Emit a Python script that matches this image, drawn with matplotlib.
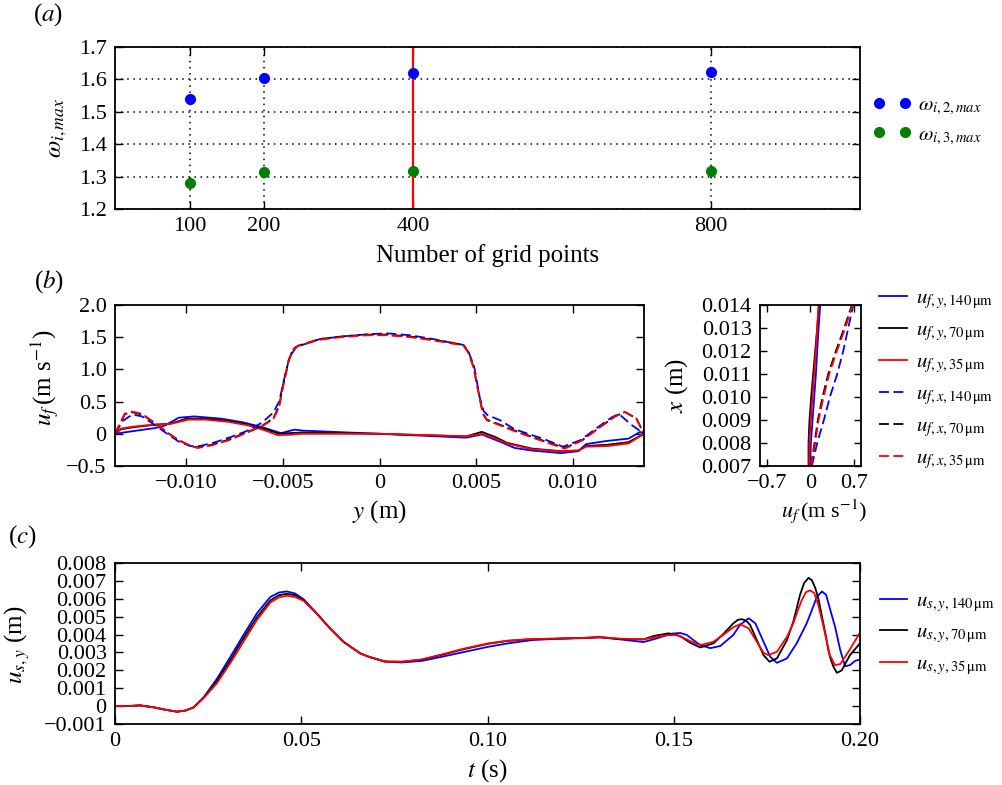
import matplotlib
matplotlib.use('Agg')
import matplotlib.pyplot as plt
from matplotlib.ticker import FuncFormatter

plt.rcParams['font.family'] = ['Liberation Serif', 'DejaVu Serif']
plt.rcParams['mathtext.fontset'] = 'stix'

# ---------------- (a) grid convergence ----------------
grid_points = [100, 200, 400, 800]
omega_2 = [1.540, 1.604, 1.619, 1.622]
omega_3 = [1.279, 1.313, 1.317, 1.317]
grid_chosen = 400

# ---------------- (b) fluid velocity profiles ----------------
y_fy140 = [-0.0137, -0.0128, -0.0116, -0.0111, -0.0104, -0.0096, -0.0082, -0.0071, -0.0061,
           -0.0051, -0.0044, -0.0040, 0.0, 0.0045, 0.0053, 0.0063, 0.0070, 0.0079, 0.0094,
           0.0103, 0.0107, 0.0118, 0.0129, 0.0135, 0.0137]
u_fy140 = [0.0, 0.04, 0.09, 0.13, 0.25, 0.27, 0.235, 0.18, 0.105,
           0.01, 0.065, 0.05, 0.0, -0.06, -0.01, -0.13, -0.22, -0.26, -0.30,
           -0.27, -0.16, -0.11, -0.075, 0.03, 0.0]
y_fy70 = [-0.0137, -0.0134, -0.0128, -0.0118, -0.0108, -0.0100, -0.0090, -0.0078, -0.0068,
          -0.0059, -0.0052, -0.0047, -0.0040, 0.0, 0.0045, 0.0053, 0.0060, 0.0066, 0.0079,
          0.0094, 0.0103, 0.0107, 0.0118, 0.0129, 0.0137]
u_fy70 = [0.0, 0.07, 0.10, 0.135, 0.16, 0.235, 0.235, 0.20, 0.145,
          0.07, 0.0, 0.01, 0.02, 0.0, -0.04, 0.03, -0.05, -0.14, -0.23,
          -0.27, -0.26, -0.19, -0.17, -0.13, 0.0]
y_fy35 = [-0.0137, -0.0134, -0.0128, -0.0118, -0.0108, -0.0099, -0.0090, -0.0078, -0.0068,
          -0.0059, -0.0053, -0.0047, -0.0040, 0.0, 0.0045, 0.0053, 0.0058, 0.0066, 0.0079,
          0.0094, 0.0103, 0.0107, 0.0118, 0.0129, 0.0137]
u_fy35 = [0.0, 0.08, 0.11, 0.14, 0.155, 0.22, 0.22, 0.185, 0.13,
          0.05, -0.02, -0.015, 0.0, 0.0, -0.04, 0.0, -0.05, -0.15, -0.24,
          -0.27, -0.26, -0.20, -0.19, -0.15, 0.0]

y_fx140 = [-0.0137, -0.0133, -0.0128, -0.0123, -0.0117, -0.0110, -0.0104, -0.0098, -0.0093,
           -0.0085, -0.0077, -0.0069, -0.0061, -0.0055, -0.0052, -0.0049, -0.00465, -0.0043,
           -0.0031, -0.0020, -0.00065, 0.0004, 0.0016, 0.0028, 0.0038, 0.00435, 0.0046,
           0.0049, 0.00505, 0.0052, 0.0054, 0.0056, 0.00625, 0.0070, 0.0085, 0.0095,
           0.0104, 0.0113, 0.0120, 0.0124, 0.0130, 0.0137]
u_fx140 = [0.0, 0.20, 0.30, 0.27, 0.15, 0.0, -0.12, -0.19, -0.19,
           -0.13, -0.05, 0.04, 0.17, 0.33, 0.50, 0.90, 1.20, 1.35,
           1.47, 1.51, 1.545, 1.56, 1.53, 1.47, 1.41, 1.38, 1.28,
           1.05, 0.80, 0.55, 0.35, 0.29, 0.21, 0.07, -0.08, -0.20,
           -0.10, 0.10, 0.25, 0.31, 0.15, 0.0]
y_fx70 = [-0.0137, -0.0132, -0.0129, -0.0123, -0.0116, -0.0109, -0.0104, -0.0097, -0.0094,
          -0.0087, -0.0078, -0.0070, -0.0061, -0.0055, -0.0052, -0.0050, -0.0047, -0.00447,
          -0.0042, -0.0031, -0.0020, -0.00065, 0.0004, 0.0016, 0.0028, 0.0038, 0.00435,
          0.0046, 0.00487, 0.00504, 0.00521, 0.00535, 0.00556, 0.00625, 0.0070, 0.0085,
          0.0096, 0.0105, 0.0114, 0.0122, 0.0127, 0.0133, 0.0137]
u_fx70 = [0.0, 0.30, 0.34, 0.30, 0.16, 0.0, -0.10, -0.20, -0.21,
          -0.17, -0.09, 0.01, 0.12, 0.24, 0.43, 0.75, 1.15, 1.32,
          1.37, 1.47, 1.51, 1.54, 1.54, 1.51, 1.46, 1.41, 1.38,
          1.27, 1.04, 0.78, 0.53, 0.32, 0.22, 0.14, 0.05, -0.11,
          -0.22, -0.10, 0.10, 0.27, 0.34, 0.24, 0.0]
y_fx35 = [-0.0137, -0.0132, -0.0129, -0.0123, -0.0116, -0.0109, -0.0104, -0.0097, -0.0094,
          -0.0087, -0.0078, -0.0070, -0.0061, -0.0055, -0.0052, -0.0050, -0.0047, -0.00447,
          -0.0042, -0.0031, -0.0020, -0.00065, 0.0004, 0.0016, 0.0028, 0.0038, 0.00435,
          0.0046, 0.00487, 0.00504, 0.00521, 0.00535, 0.00556, 0.00625, 0.0070, 0.0085,
          0.0096, 0.0105, 0.0114, 0.0122, 0.0127, 0.0133, 0.0137]
u_fx35 = [0.0, 0.31, 0.35, 0.31, 0.16, 0.0, -0.10, -0.20, -0.22,
          -0.18, -0.10, 0.0, 0.115, 0.23, 0.41, 0.72, 1.13, 1.31,
          1.365, 1.46, 1.50, 1.53, 1.53, 1.50, 1.45, 1.40, 1.37,
          1.26, 1.03, 0.77, 0.52, 0.31, 0.21, 0.13, 0.04, -0.12,
          -0.23, -0.10, 0.10, 0.27, 0.34, 0.24, 0.0]

# (b) inset: profiles along x
x_levels = [0.007, 0.008, 0.009, 0.010, 0.011, 0.012, 0.013, 0.014]
inset_fy140 = [0.0, 0.011, 0.038, 0.065, 0.092, 0.113, 0.135, 0.162]
inset_fy70 = [-0.027, -0.027, -0.011, 0.016, 0.048, 0.081, 0.113, 0.140]
inset_fy35 = [-0.016, -0.011, 0.011, 0.038, 0.065, 0.092, 0.113, 0.135]
inset_fx140 = [0.027, 0.113, 0.221, 0.318, 0.436, 0.533, 0.614, 0.695]
inset_fx70 = [0.011, 0.070, 0.124, 0.199, 0.291, 0.415, 0.549, 0.673]
inset_fx35 = [0.016, 0.081, 0.135, 0.215, 0.307, 0.431, 0.565, 0.684]

# ---------------- (c) solid displacement history ----------------
t_early = [0, 0.0032, 0.0068, 0.0104, 0.0135, 0.0166, 0.0189, 0.0211, 0.0238, 0.0274, 0.031,
           0.0345, 0.0381, 0.0417, 0.0440, 0.0461, 0.0483, 0.0506, 0.0541, 0.0577, 0.0613,
           0.0658, 0.0681, 0.0725, 0.077, 0.0824, 0.0878, 0.094, 0.1003, 0.1056, 0.1119,
           0.1182, 0.1253]
us_early140 = [0, 0.0, 0.04, -0.07, -0.2, -0.31, -0.25, -0.07, 0.49, 1.54, 2.76,
               3.98, 5.19, 6.10, 6.35, 6.41, 6.30, 5.98, 5.19, 4.35, 3.60,
               2.95, 2.76, 2.48, 2.44, 2.53, 2.76, 3.04, 3.32, 3.51, 3.69,
               3.76, 3.80]
us_early70 = [0, 0.0, 0.04, -0.07, -0.2, -0.31, -0.25, -0.07, 0.47, 1.41, 2.57,
              3.79, 4.97, 5.91, 6.20, 6.28, 6.20, 5.94, 5.19, 4.35, 3.60,
              2.95, 2.76, 2.50, 2.48, 2.60, 2.87, 3.20, 3.49, 3.65, 3.74,
              3.77, 3.81]
us_early35 = [0, 0.0, 0.04, -0.07, -0.2, -0.31, -0.25, -0.07, 0.45, 1.29, 2.42,
              3.60, 4.82, 5.79, 6.08, 6.17, 6.10, 5.89, 5.19, 4.35, 3.60,
              2.95, 2.76, 2.48, 2.48, 2.61, 2.89, 3.23, 3.51, 3.66, 3.75,
              3.77, 3.81]

t_late140 = [0.1302, 0.1356, 0.1419, 0.1455, 0.1495, 0.1517, 0.1535, 0.1553, 0.1571, 0.1598,
             0.1625, 0.1660, 0.1678, 0.1701, 0.1719, 0.1741, 0.1759, 0.1777, 0.1804, 0.1830,
             0.1857, 0.1871, 0.1884, 0.1898, 0.1909, 0.1919, 0.1933, 0.1947, 0.1960, 0.1973,
             0.1987, 0.2000]
us_late140 = [3.85, 3.73, 3.58, 3.79, 4.05, 4.09, 3.98, 3.69, 3.41, 3.24,
              3.36, 3.98, 4.54, 4.91, 4.63, 3.60, 2.76, 2.42, 2.67, 3.51,
              4.63, 5.38, 6.10, 6.41, 6.22, 5.47, 4.44, 3.13, 2.23, 2.29,
              2.53, 2.61]
t_late70 = [0.1302, 0.1356, 0.1419, 0.1446, 0.1486, 0.1517, 0.1544, 0.1571, 0.1607, 0.1633,
            0.1660, 0.1672, 0.1683, 0.1694, 0.1705, 0.1723, 0.1741, 0.1757, 0.1777, 0.1804,
            0.1821, 0.1830, 0.1839, 0.1850, 0.1862, 0.1871, 0.1880, 0.1889, 0.1898, 0.1907,
            0.1915, 0.1922, 0.1929, 0.1938, 0.1951, 0.1973, 0.2000]
us_late70 = [3.85, 3.75, 3.73, 3.92, 4.07, 3.92, 3.54, 3.28, 3.51, 4.03,
             4.63, 4.82, 4.86, 4.78, 4.54, 3.69, 2.85, 2.48, 2.67, 3.69,
             4.73, 5.47, 6.22, 6.88, 7.17, 7.03, 6.60, 5.94, 5.00, 4.07,
             3.13, 2.57, 2.19, 1.86, 2.00, 2.85, 3.51]
t_late35 = [0.1302, 0.1356, 0.1419, 0.1446, 0.1481, 0.1508, 0.1535, 0.1562, 0.1575, 0.1607,
            0.1633, 0.1660, 0.1678, 0.1701, 0.1723, 0.1741, 0.1754, 0.1777, 0.1804, 0.1821,
            0.1832, 0.1844, 0.1855, 0.1866, 0.1877, 0.1888, 0.1902, 0.1911, 0.1919, 0.1933,
            0.1947, 0.1969, 0.2000]
us_late35 = [3.85, 3.77, 3.73, 3.83, 3.96, 3.98, 3.73, 3.47, 3.43, 3.60,
             3.98, 4.41, 4.58, 4.35, 3.60, 2.98, 2.85, 3.04, 3.88, 4.63,
             5.29, 5.94, 6.37, 6.47, 6.32, 5.66, 4.44, 3.60, 2.85, 2.29,
             2.35, 3.04, 4.11]

FS_TICK = 16
FS_LAB = 18
FS_LEG = 15


def zero_fmt(fmt):
    def f(v, pos):
        if abs(v) < 1e-12:
            return '0'
        return (fmt % v).replace('-', '\u2212')
    return FuncFormatter(f)


def style(ax, length=6):
    ax.tick_params(direction='in', top=True, right=True, length=length, width=1,
                   labelsize=FS_TICK, pad=6)
    for s in ax.spines.values():
        s.set_linewidth(1.3)


W, H = 1003.0, 785.0


def box(l, r, t, b):
    return [l / W, 1 - b / H, (r - l) / W, (b - t) / H]


fig = plt.figure(figsize=(10.03, 7.85), dpi=100)

# ---- (a)
ax_a = fig.add_axes(box(115, 860, 47, 209))
ax_a.axvline(grid_chosen, color='red', lw=1.6, zorder=2)
ax_a.plot(grid_points, omega_2, 'o', color='blue', ms=7, mec='blue', zorder=3,
          label=r'$\omega_{i,2,max}$')
ax_a.plot(grid_points, omega_3, 'o', color='green', ms=7, mec='green', zorder=3,
          label=r'$\omega_{i,3,max}$')
ax_a.set_xlim(0, 1000)
ax_a.set_ylim(1.2, 1.7)
ax_a.set_xticks(grid_points)
ax_a.set_yticks([1.2, 1.3, 1.4, 1.5, 1.6, 1.7])
ax_a.yaxis.set_major_formatter(zero_fmt('%.1f'))
ax_a.grid(True, color='black', linestyle=(0, (1, 3)), lw=1.1)
style(ax_a)
ax_a.set_xlabel('Number of grid points', fontsize=FS_LAB)
ax_a.xaxis.set_label_coords(0.5, -0.215)
ax_a.set_ylabel(r'$\omega_{i,max}$', fontsize=FS_LAB)
ax_a.yaxis.set_label_coords(-0.062, 0.5)
ax_a.legend(loc='center left', bbox_to_anchor=(873 / W, 1 - 121 / H),
            bbox_transform=fig.transFigure, frameon=False, numpoints=2,
            fontsize=FS_LEG, handlelength=1.85, handletextpad=0.3,
            borderpad=0, borderaxespad=0, labelspacing=0.4)

# ---- (b) main
ax_b = fig.add_axes(box(115, 644, 305, 466))
ls_dash = (0, (5.5, 2.5))
lw = 1.3
ax_b.plot(y_fy140, u_fy140, color='blue', lw=lw, label=r'$u_{f,y,140\,\mathrm{\mu m}}$')
ax_b.plot(y_fy70, u_fy70, color='black', lw=lw, label=r'$u_{f,y,70\,\mathrm{\mu m}}$')
ax_b.plot(y_fy35, u_fy35, color='red', lw=lw, label=r'$u_{f,y,35\,\mathrm{\mu m}}$')
ax_b.plot(y_fx140, u_fx140, color='blue', lw=lw, ls=ls_dash, label=r'$u_{f,x,140\,\mathrm{\mu m}}$')
ax_b.plot(y_fx70, u_fx70, color='black', lw=lw, ls=ls_dash, label=r'$u_{f,x,70\,\mathrm{\mu m}}$')
ax_b.plot(y_fx35, u_fx35, color='red', lw=lw, ls=ls_dash, label=r'$u_{f,x,35\,\mathrm{\mu m}}$')
ax_b.set_xlim(-0.0137, 0.0137)
ax_b.set_ylim(-0.5, 2.0)
ax_b.set_xticks([-0.010, -0.005, 0, 0.005, 0.010])
ax_b.set_yticks([-0.5, 0, 0.5, 1.0, 1.5, 2.0])
ax_b.xaxis.set_major_formatter(zero_fmt('%.3f'))
ax_b.yaxis.set_major_formatter(zero_fmt('%.1f'))
style(ax_b)
ax_b.set_xlabel(r'$y$ (m)', fontsize=FS_LAB)
ax_b.xaxis.set_label_coords(0.5, -0.2)
ax_b.set_ylabel(r'$u_f\,$(m s$^{-1}$)', fontsize=FS_LAB)
ax_b.yaxis.set_label_coords(-0.1, 0.55)
ax_b.legend(loc='center left', bbox_to_anchor=(879 / W, 1 - 380 / H),
            bbox_transform=fig.transFigure, frameon=False,
            fontsize=FS_LEG, handlelength=1.35, handletextpad=0.45,
            borderpad=0, borderaxespad=0, labelspacing=0.47)

# ---- (b) inset
ax_i = fig.add_axes(box(760, 861, 305, 466))
ax_i.plot(inset_fy140, x_levels, color='blue', lw=lw)
ax_i.plot(inset_fy70, x_levels, color='black', lw=lw)
ax_i.plot(inset_fy35, x_levels, color='red', lw=lw)
ax_i.plot(inset_fx140, x_levels, color='blue', lw=lw, ls=ls_dash)
ax_i.plot(inset_fx70, x_levels, color='black', lw=lw, ls=ls_dash)
ax_i.plot(inset_fx35, x_levels, color='red', lw=lw, ls=ls_dash)
ax_i.set_xlim(-0.81, 0.82)
ax_i.set_ylim(0.007, 0.014)
ax_i.set_xticks([-0.7, 0, 0.7])
ax_i.set_yticks(x_levels)
ax_i.xaxis.set_major_formatter(zero_fmt('%.1f'))
ax_i.yaxis.set_major_formatter(zero_fmt('%.3f'))
style(ax_i, length=5)
ax_i.set_xlabel(r'$u_f\,$(m s$^{-1}$)', fontsize=16)
ax_i.xaxis.set_label_coords(0.64, -0.19)
ax_i.set_ylabel(r'$x$ (m)', fontsize=FS_LAB)
ax_i.yaxis.set_label_coords(-0.69, 0.5)

# ---- (c)
ax_c = fig.add_axes(box(115, 860, 563, 724))
series_c = [
    (t_early + t_late140, us_early140 + us_late140, 'blue', r'$u_{s,y,140\,\mathrm{\mu m}}$'),
    (t_early + t_late70, us_early70 + us_late70, 'black', r'$u_{s,y,70\,\mathrm{\mu m}}$'),
    (t_early + t_late35, us_early35 + us_late35, 'red', r'$u_{s,y,35\,\mathrm{\mu m}}$'),
]
for tt, uu, col, lab in series_c:
    ax_c.plot(tt, [v * 1e-3 for v in uu], color=col, lw=lw, label=lab)
ax_c.set_xlim(0, 0.2)
ax_c.set_ylim(-0.001, 0.008)
ax_c.set_xticks([0, 0.05, 0.10, 0.15, 0.20])
ax_c.set_yticks([-0.001, 0, 0.001, 0.002, 0.003, 0.004, 0.005, 0.006, 0.007, 0.008])
ax_c.xaxis.set_major_formatter(zero_fmt('%.2f'))
ax_c.yaxis.set_major_formatter(zero_fmt('%.3f'))
style(ax_c)
ax_c.set_xlabel(r'$t$ (s)', fontsize=FS_LAB)
ax_c.xaxis.set_label_coords(0.5, -0.205)
ax_c.set_ylabel(r'$u_{s,y}$ (m)', fontsize=FS_LAB)
ax_c.yaxis.set_label_coords(-0.111, 0.49)
ax_c.legend(loc='center left', bbox_to_anchor=(880 / W, 1 - 634 / H),
            bbox_transform=fig.transFigure, frameon=False,
            fontsize=FS_LEG, handlelength=1.3, handletextpad=0.45,
            borderpad=0, borderaxespad=0, labelspacing=0.44)

# panel letters
fig.text(33 / W, 1 - 15 / H, r'($a$)', fontsize=FS_LAB, va='center', ha='left')
fig.text(34 / W, 1 - 282 / H, r'($b$)', fontsize=FS_LAB, va='center', ha='left')
fig.text(8 / W, 1 - 537 / H, r'($c$)', fontsize=FS_LAB, va='center', ha='left')

fig.savefig('out.png', dpi=100)
